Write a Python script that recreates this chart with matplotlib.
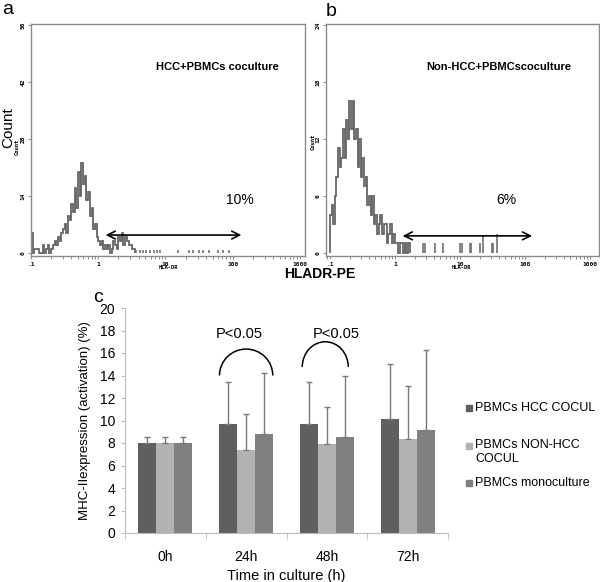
#! /usr/bin/env python3
import numpy as np
import matplotlib
matplotlib.use("Agg")
import matplotlib.pyplot as plt
from matplotlib.patches import Arc, Rectangle

plt.rcParams['font.family'] = ['Liberation Sans', 'DejaVu Sans']

# --- flow cytometry histograms (40 channels per decade, starting at 0.1) ---
bins_per_decade = 40
counts_a = [5, 0, 1, 1, 1, 0, 0, 2, 0, 1, 2, 0,
            1, 2, 3, 2, 4, 3, 5, 6,
            7, 5, 9, 8, 12, 10, 16, 11,
            20, 14, 22, 17, 19, 13, 15, 9,
            11, 6, 7, 4, 3, 2, 3, 1,
            2, 1, 2, 0, 1, 3, 2, 1,
            4, 3, 5, 2, 4, 3, 2, 2, 1, 1]
sparse_a = [3.6, 4.2, 4.6, 5.2, 5.9, 6.7, 7.4, 8.3, 15.5, 22, 26, 31, 36, 45, 60, 72, 88]
sparse_a_h = [0.8] * len(sparse_a)

counts_b = [4, 5, 3, 6,
            8, 11, 9, 10,
            13, 10, 14, 12,
            16, 13, 16, 12,
            13, 9, 12, 8, 10,
            7, 8, 5, 6, 4, 6,
            3, 4, 2, 3, 4, 2, 3,
            3, 1, 2, 3, 1, 2, 1,
            1, 0, 1, 1, 0, 1, 0, 1]
sparse_b = [2.73, 2.9, 4.1, 5.5, 9.9, 10.6, 14.2, 15.0, 20.4, 23.0, 30.7, 32.6, 36.6]
sparse_b_h = [1, 1, 1, 1, 1, 1, 1, 1, 1, 1.8, 1, 1, 2]

# --- bar chart ---
times = ['0h', '24h', '48h', '72h']
series = ['PBMCs HCC COCUL', 'PBMCs NON-HCC\nCOCUL', 'PBMCs monoculture']
hcc = [8.0, 9.7, 9.7, 10.1]
hcc_top = [8.5, 13.4, 13.4, 15.0]
nonhcc = [8.0, 7.4, 7.9, 8.35]
nonhcc_top = [8.5, 10.6, 11.2, 13.1]
mono = [8.0, 8.8, 8.55, 9.2]
mono_top = [8.5, 14.2, 14.0, 16.3]
colors = ['#5f5f5f', '#b2b2b2', '#808080']

W, H = 600, 582
fig = plt.figure(figsize=(6, 5.82), dpi=100)


def px(x, y):
    return x / W, 1 - y / H


def hist_axes(rect, counts, sparse, sparse_h, xlim, ylim, yticks):
    ax = fig.add_axes(rect)
    edges = 10 ** (-1 + np.arange(len(counts) + 1) / bins_per_decade)
    ax.stairs(counts, edges, color='#666666', lw=1.3)
    ax.vlines(sparse, 0, sparse_h, color='#666666', lw=1.1)
    ax.set_xscale('log')
    ax.set_xlim(*xlim)
    ax.set_ylim(*ylim)
    ax.set_yticks(yticks)
    ax.set_yticklabels([str(t) for t in yticks], rotation=90, va='center',
                       family='DejaVu Sans Mono', fontsize=4.5, fontweight='bold')
    ax.set_xticks([0.1, 1, 10, 100, 1000])
    ax.set_xticklabels(['.1', '1', '10', '100', '1000'],
                       family='DejaVu Sans Mono', fontsize=4.5, fontweight='bold')
    ax.tick_params(axis='both', which='both', length=2, width=0.6, color='#777', pad=2)
    for s in ax.spines.values():
        s.set_color('#8a8a8a')
        s.set_linewidth(1.0)
    return ax


ax_a = hist_axes([31 / W, 1 - 256 / H, (305 - 31) / W, (256 - 24) / H],
                 counts_a, sparse_a, sparse_a_h, (0.1, 1187), (-0.75, 56.3),
                 [0, 14, 28, 42, 56])
ax_b = hist_axes([326 / W, 1 - 256 / H, (599 - 326) / W, (256 - 24) / H],
                 counts_b, sparse_b, sparse_b_h, (0.087, 1375), (-0.32, 24.1),
                 [0, 6, 12, 18, 24])

ax_a.annotate('', xy=(148, 4.4), xytext=(1.17, 4.4),
              arrowprops=dict(arrowstyle='<->', lw=1.2, color='black',
                              mutation_scale=14))
ax_b.annotate('', xy=(142, 1.8), xytext=(1.19, 1.8),
              arrowprops=dict(arrowstyle='<->', lw=1.2, color='black',
                              mutation_scale=14))

fig.text(*px(217, 67), 'HCC+PBMCs coculture', ha='center', va='center',
         fontsize=8, fontweight='bold')
fig.text(*px(499, 67), 'Non-HCC+PBMCscoculture', ha='center', va='center',
         fontsize=8, fontweight='bold')
fig.text(*px(240, 200), '10%', ha='center', va='center', fontsize=10)
fig.text(*px(506, 200), '6%', ha='center', va='center', fontsize=10)
for x in (168, 461):
    fig.text(*px(x, 268), 'HLA-DR', ha='center', va='center',
             family='DejaVu Sans Mono', fontsize=4, fontweight='bold')
for x, y in ((17, 147), (313, 142)):
    fig.text(*px(x, y), 'Count', ha='center', va='center', rotation=90,
             family='DejaVu Sans Mono', fontsize=4, fontweight='bold')
fig.text(*px(8, 128), 'Count', ha='center', va='center', rotation=90, fontsize=11)
fig.text(*px(320, 274), 'HLADR-PE', ha='center', va='center',
         fontsize=10, fontweight='bold')
fig.text(*px(8, 10), 'a', ha='center', va='center', fontsize=14)
fig.text(*px(331, 11), 'b', ha='center', va='center', fontsize=14)
fig.text(*px(98, 298), 'c', ha='center', va='center', fontsize=14)

# --- panel c ---
ax = fig.add_axes([125 / W, 1 - 533 / H, (448 - 125) / W, (533 - 308) / H])
x = np.arange(len(times))
bw = 0.223
vals = [hcc, nonhcc, mono]
tops = [hcc_top, nonhcc_top, mono_top]
for i, (v, t, c) in enumerate(zip(vals, tops, colors)):
    pos = x + (i - 1) * bw
    ax.bar(pos, v, bw, color=c, zorder=2)
    err = np.array(t) - np.array(v)
    ax.errorbar(pos, v, yerr=[np.zeros_like(err), err], fmt='none',
                ecolor='#7a7a7a', elinewidth=1.0, capsize=2.5, capthick=1.0, zorder=3)

ax.set_xlim(-0.5, 3.5)
ax.set_ylim(0, 20)
ax.set_yticks(range(0, 21, 2))
ax.set_xticks(x)
ax.set_xticklabels(times)
ax.set_xticks(np.arange(-0.5, 4, 1), minor=True)
ax.tick_params(axis='x', which='major', length=0, pad=12, labelsize=10)
ax.tick_params(axis='x', which='minor', length=4, color='#bbbbbb', direction='out')
ax.tick_params(axis='y', length=3, color='#bbbbbb', labelsize=10, pad=4)
for s in ('top', 'right'):
    ax.spines[s].set_visible(False)
for s in ('left', 'bottom'):
    ax.spines[s].set_color('#bbbbbb')
ax.set_xlabel('Time in culture (h)', fontsize=10.5, labelpad=4)
ax.set_ylabel('MHC-IIexpression (activation) (%)', fontsize=9.5, labelpad=6)

# significance arcs
ax.add_patch(Arc((1.0, 14.0), 0.66, 4.7, theta1=0, theta2=180, lw=1.1, color='black'))
ax.add_patch(Arc((1.98, 14.75), 0.57, 4.5, theta1=0, theta2=180, lw=1.1, color='black'))
ax.text(0.92, 17.7, 'P<0.05', ha='center', va='center', fontsize=10.5)
ax.text(2.12, 17.7, 'P<0.05', ha='center', va='center', fontsize=10.5)

# legend drawn by hand (uneven spacing as in the original)
leg_y = [408, 446, 483]
for lab, c, y in zip(series, colors, leg_y):
    fx, fy = px(466, y + 3)
    fig.patches.append(Rectangle((fx, fy), 6 / W, 6 / H, transform=fig.transFigure,
                                 color=c, figure=fig))
    if '\n' in lab:
        fig.text(*px(475, y - 7), lab, ha='left', va='top', fontsize=9, linespacing=1.25)
    else:
        fig.text(*px(475, y), lab, ha='left', va='center', fontsize=9)

fig.savefig('out.png', dpi=100)
